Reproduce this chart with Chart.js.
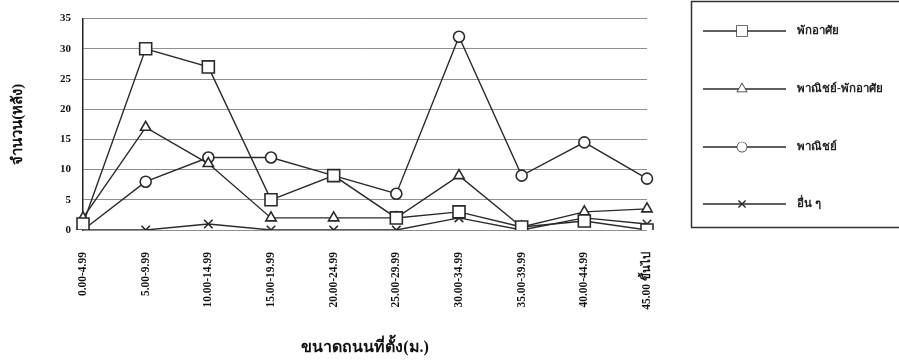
<!DOCTYPE html>
<html><head><meta charset="utf-8">
<script src="https://cdn.jsdelivr.net/npm/chart.js@4.4.0/dist/chart.umd.min.js"></script>
<style>html,body{margin:0;padding:0;background:#fff}#wrap{width:899px;height:361px;position:relative}</style>
</head><body><div id="wrap"><canvas id="c"></canvas></div>
<script>
const categories = ['0.00-4.99','5.00-9.99','10.00-14.99','15.00-19.99','20.00-24.99','25.00-29.99','30.00-34.99','35.00-39.99','40.00-44.99','45.00 ขึ้นไป'];
const seriesLabels = ['พักอาศัย','พาณิชย์-พักอาศัย','พาณิชย์','อื่น ๆ'];
const residential = [1, 30, 27, 5, 9, 2, 3, 0.5, 1.5, 0];
const mixedUse = [2, 17, 11, 2, 2, 2, 9, 0.5, 3, 3.5];
const commercial = [0, 8, 12, 12, 9, 6, 32, 9, 14.5, 8.5];
const others = [0, 0, 1, 0, 0, 0, 2, 0, 2, 1];
const yMin = 0, yMax = 35, yStep = 5;
const yTitle = 'จำนวน(หลัง)';
const xTitle = 'ขนาดถนนที่ตั้ง(ม.)';

const FONT = "'Liberation Serif', 'DejaVu Serif', serif";
const LINE = '#2a2a2a';
const styles = [
  {pointStyle:'rect', pointRadius:8.5},
  {pointStyle:'triangle', pointRadius:6},
  {pointStyle:'circle', pointRadius:5.5},
  {pointStyle:'crossRot', pointRadius:6}
];
const values = [residential, mixedUse, commercial, others];
const datasets = values.map((v,i)=>({
  label: seriesLabels[i], data: v,
  borderColor: LINE, borderWidth: 1.4,
  pointBackgroundColor: '#fff', pointBorderColor: LINE, pointBorderWidth: 1.6,
  pointStyle: styles[i].pointStyle, pointRadius: styles[i].pointRadius,
  tension: 0, fill: false
}));

const legendBox = {
  id: 'legendBox',
  afterDraw(chart){
    const ctx = chart.ctx;
    ctx.save();
    ctx.strokeStyle = '#333'; ctx.lineWidth = 1.5;
    ctx.strokeRect(691.5, 1.5, 230, 226);
    const ys = [31, 89, 147, 204];
    chart.data.datasets.forEach((ds,i)=>{
      const y = ys[i];
      ctx.strokeStyle = LINE; ctx.lineWidth = 1.4;
      ctx.beginPath(); ctx.moveTo(703, y); ctx.lineTo(786, y); ctx.stroke();
      ctx.fillStyle = '#fff';
      Chart.helpers.drawPoint(ctx, {pointStyle: ds.pointStyle, radius: ds.pointRadius*0.85, rotation:0, borderWidth:1.5}, 742, y);
      ctx.fill();
      ctx.fillStyle = '#222';
      ctx.font = "bold 11.5px " + FONT;
      ctx.textBaseline = 'middle'; ctx.textAlign = 'left';
      ctx.fillText(ds.label, 797, y);
    });
    ctx.restore();
  }
};

new Chart(document.getElementById('c'), {
  type: 'line',
  data: { labels: categories, datasets },
  plugins: [legendBox],
  options: {
    responsive: true, maintainAspectRatio: false, animation: false,
    layout: { padding: { top: 17, right: 252, bottom: 0, left: 0 } },
    plugins: { legend: { display: false }, tooltip: { enabled: false } },
    scales: {
      x: {
        offset: false,
        grid: { display: false, drawTicks: false },
        border: { display: false },
        ticks: { autoSkip: false, maxRotation: 90, minRotation: 90, padding: 22, color: '#111', font: { family: FONT, size: 11.5, weight: 'bold' } },
        title: { display: true, text: xTitle, color: '#111', font: { family: FONT, size: 16, weight: 'bold' }, padding: { top: 0, bottom: 4 } },
        afterFit(s){ s.height = 131; }
      },
      y: {
        min: yMin, max: yMax,
        grid: { color: '#8f8f8f', lineWidth: 1, drawTicks: false },
        border: { display: true, color: '#222', width: 1.5 },
        ticks: { stepSize: yStep, padding: 12, color: '#111', font: { family: FONT, size: 11, weight: 'bold' } },
        title: { display: true, text: yTitle, color: '#111', font: { family: FONT, size: 15, weight: 'bold' }, padding: { top: 9, bottom: 0 } },
        afterFit(s){ s.width = 83; }
      }
    }
  }
});
</script>
</body></html>
